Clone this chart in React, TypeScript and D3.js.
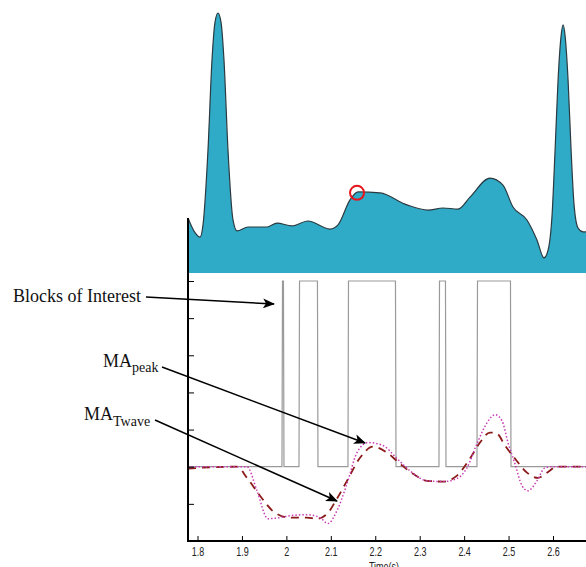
import React, { useEffect, useRef } from "react";
import * as d3 from "d3";

// ECG trace (time in s, amplitude in arbitrary units)
const ecgTime = [1.7786, 1.7944, 1.8056, 1.8124, 1.8236, 1.8326, 1.8394, 1.8461, 1.8529, 1.8596, 1.8686, 1.8799, 1.8889, 1.9136, 1.9564, 1.9789, 2.0126, 2.0486, 2.0981, 2.1162, 2.1432, 2.1612, 2.2107, 2.2714, 2.3187, 2.3524, 2.3862, 2.4132, 2.4582, 2.4874, 2.5099, 2.5414, 2.5639, 2.5797, 2.5889, 2.5979, 2.6047, 2.6114, 2.6182, 2.6227, 2.6272, 2.6339, 2.6407, 2.6474, 2.6564, 2.6677, 2.6834];
const ecgValue = [21.2, 15.5, 13.8, 18.5, 47.3, 81.9, 96.5, 100, 96.5, 81.9, 47.3, 20.4, 16.2, 17.7, 17.7, 19.2, 18.1, 20.0, 16.9, 18.5, 28.1, 31.2, 30.8, 26.2, 24.2, 25.0, 24.6, 29.2, 36.5, 33.8, 25.4, 20.4, 12.7, 5.8, 8.8, 22.3, 47.3, 74.2, 91.2, 95.4, 91.2, 74.2, 47.3, 26.2, 17.3, 15.8, 15.8];

// red marker on the T-wave onset
const markTime = 2.159;

// blocks of interest (on/off)
const blockStart = [1.9901, 2.0284, 2.1386, 2.3434, 2.4289];
const blockEnd = [1.9946, 2.0711, 2.2467, 2.3592, 2.5055];
const blockHigh = 5;

// MA_peak (dotted)
const peakTime = [1.7786, 1.9114, 1.9339, 1.9586, 1.9856, 2.0081, 2.0464, 2.0757, 2.0937, 2.1139, 2.1364, 2.1589, 2.1837, 2.2174, 2.2489, 2.2782, 2.3164, 2.3524, 2.3839, 2.4064, 2.4289, 2.4514, 2.4694, 2.4852, 2.4987, 2.5144, 2.5302, 2.5437, 2.5639, 2.5819, 2.5999, 2.6834];
const peakValue = [0, 0, -0.65, -1.4, -1.37, -1.32, -1.29, -1.37, -1.53, -1.18, -0.46, 0.38, 0.65, 0.57, 0.22, -0.11, -0.38, -0.4, -0.32, -0.03, 0.62, 1.18, 1.4, 1.24, 0.65, 0.08, -0.51, -0.65, -0.38, -0.03, 0, 0];

// MA_Twave (dashed)
const twaveTime = [1.7786, 1.8056, 1.8889, 1.9114, 1.9406, 1.9744, 2.0081, 2.0464, 2.0689, 2.0914, 2.1139, 2.1364, 2.1657, 2.1949, 2.2264, 2.2557, 2.2849, 2.3164, 2.3524, 2.3839, 2.4132, 2.4357, 2.4582, 2.4739, 2.4919, 2.5144, 2.5414, 2.5662, 2.5864, 2.6089, 2.6834];
const twaveValue = [-0.05, -0.03, 0, -0.3, -0.78, -1.24, -1.37, -1.37, -1.4, -1.27, -0.86, -0.38, 0.24, 0.54, 0.38, 0.08, -0.19, -0.38, -0.4, -0.24, 0.22, 0.65, 0.92, 0.89, 0.57, 0.22, -0.16, -0.3, -0.16, 0, 0];

const xTicks = [1.8, 1.9, 2.0, 2.1, 2.2, 2.3, 2.4, 2.5, 2.6];
const yTicks = [-2, -1, 0, 1, 2, 3, 4, 5];

const W = 586;
const H = 567;
const LEFT = 188;

export default function App() {
  const gx = useRef<SVGGElement>(null);
  const gy = useRef<SVGGElement>(null);

  const x = d3.scaleLinear().domain([1.8, 2.6]).range([197.5, 553]);
  const yTop = d3.scaleLinear().domain([0, 100]).range([273, 13]);
  const yLow = d3.scaleLinear().domain([-2, 5]).range([541, 281]);

  const ecg = ecgTime.map((t, i) => [t, ecgValue[i]] as [number, number]);
  const ecgArea = d3.area<[number, number]>()
    .x(d => x(d[0])).y0(yTop(0)).y1(d => yTop(d[1]))
    .curve(d3.curveMonotoneX);
  const ecgLine = d3.line<[number, number]>()
    .x(d => x(d[0])).y(d => yTop(d[1]))
    .curve(d3.curveMonotoneX);
  const markY = yTop(d3.scaleLinear().domain(ecgTime).range(ecgValue)(markTime));

  // square wave with steep edges
  const ramp = 0.0012;
  const blocks: [number, number][] = [[ecgTime[0], 0]];
  blockStart.forEach((s, i) => {
    blocks.push([s, 0], [s + ramp, blockHigh], [blockEnd[i] - ramp, blockHigh], [blockEnd[i], 0]);
  });
  blocks.push([ecgTime[ecgTime.length - 1], 0]);
  const lowLine = d3.line<[number, number]>().x(d => x(d[0])).y(d => yLow(d[1]));
  const smooth = d3.line<[number, number]>().x(d => x(d[0])).y(d => yLow(d[1])).curve(d3.curveMonotoneX);
  const peak = peakTime.map((t, i) => [t, peakValue[i]] as [number, number]);
  const twave = twaveTime.map((t, i) => [t, twaveValue[i]] as [number, number]);

  useEffect(() => {
    const ax = d3.select(gx.current!);
    ax.call(
      d3.axisBottom(x).tickValues(xTicks).tickSizeInner(-5).tickSizeOuter(0).tickPadding(6)
        .tickFormat(d => String(+(+d).toFixed(1)))
    );
    ax.select(".domain").remove();
    ax.selectAll(".tick line").attr("stroke", "#000");
    ax.selectAll(".tick text")
      .attr("font-family", "Liberation Sans, Arial, sans-serif")
      .attr("font-size", 12.5)
      .attr("fill", "#222")
      .attr("transform", "scale(0.72,1)");
    const ay = d3.select(gy.current!);
    ay.call(d3.axisLeft(yLow).tickValues(yTicks).tickSizeInner(-6).tickSizeOuter(0).tickFormat(() => ""));
    ay.select(".domain").remove();
    ay.selectAll(".tick line").attr("stroke", "#000");
  }, []);

  const serif = "Liberation Serif, Times New Roman, serif";

  return (
    <svg width={W} height={H} style={{ position: "absolute", left: 0, top: 0, background: "#fff" }}>
      <defs>
        <clipPath id="clipTop"><rect x={LEFT} y={0} width={W - LEFT} height={yTop(0)} /></clipPath>
        <clipPath id="clipLow"><rect x={LEFT} y={274} width={W - LEFT} height={yLow(-2) - 274} /></clipPath>
        <marker id="arr" viewBox="0 0 12 10" refX="11" refY="5" markerWidth="12" markerHeight="10"
          markerUnits="userSpaceOnUse" orient="auto">
          <path d="M0,0 L12,5 L0,10 L3,5 Z" fill="#000" />
        </marker>
      </defs>

      <g clipPath="url(#clipTop)">
        <path d={ecgArea(ecg) ?? ""} fill="#2faac7" />
        <path d={ecgLine(ecg) ?? ""} fill="none" stroke="#2b3a40" strokeWidth={1.2} />
      </g>
      <circle cx={x(markTime)} cy={markY} r={7} fill="none" stroke="#e8141c" strokeWidth={2} />

      <g clipPath="url(#clipLow)">
        <path d={lowLine(blocks) ?? ""} fill="none" stroke="#9a9a9a" strokeWidth={1.2} />
        <path d={smooth(twave) ?? ""} fill="none" stroke="#8b1a1a" strokeWidth={1.8} strokeDasharray="8,6" />
        <path d={smooth(peak) ?? ""} fill="none" stroke="#c83cb4" strokeWidth={1.5} strokeDasharray="1.5,2" />
      </g>

      <g ref={gx} transform={`translate(0,${yLow(-2)})`} />
      <g ref={gy} transform={`translate(${LEFT},0)`} />
      <line x1={LEFT} x2={W} y1={yLow(-2)} y2={yLow(-2)} stroke="#000" strokeWidth={2} />
      <line x1={LEFT} x2={LEFT} y1={yTop(ecgValue[0])} y2={yLow(-2) + 1} stroke="#000" strokeWidth={2} />

      <text x={384} y={571} textAnchor="middle" fontFamily="Liberation Sans, Arial, sans-serif" fontSize={12.5}
        fill="#222" transform="translate(384,0) scale(0.72,1) translate(-384,0)">Time(s)</text>

      <text x={13} y={302} fontFamily={serif} fontSize={18} fill="#111">Blocks of Interest</text>
      <line x1={146} y1={297} x2={274} y2={304} stroke="#000" strokeWidth={1.5} markerEnd="url(#arr)" />

      <text x={103} y={367} fontFamily={serif} fontSize={18} fill="#111">
        MA<tspan fontSize={14} dy={5}>peak</tspan>
      </text>
      <line x1={162} y1={367} x2={365} y2={443} stroke="#000" strokeWidth={1.5} markerEnd="url(#arr)" />

      <text x={84} y={420} fontFamily={serif} fontSize={18} fill="#111">
        MA<tspan fontSize={14} dy={6}>Twave</tspan>
      </text>
      <line x1={155} y1={420} x2={337} y2={501} stroke="#000" strokeWidth={1.5} markerEnd="url(#arr)" />
    </svg>
  );
}
